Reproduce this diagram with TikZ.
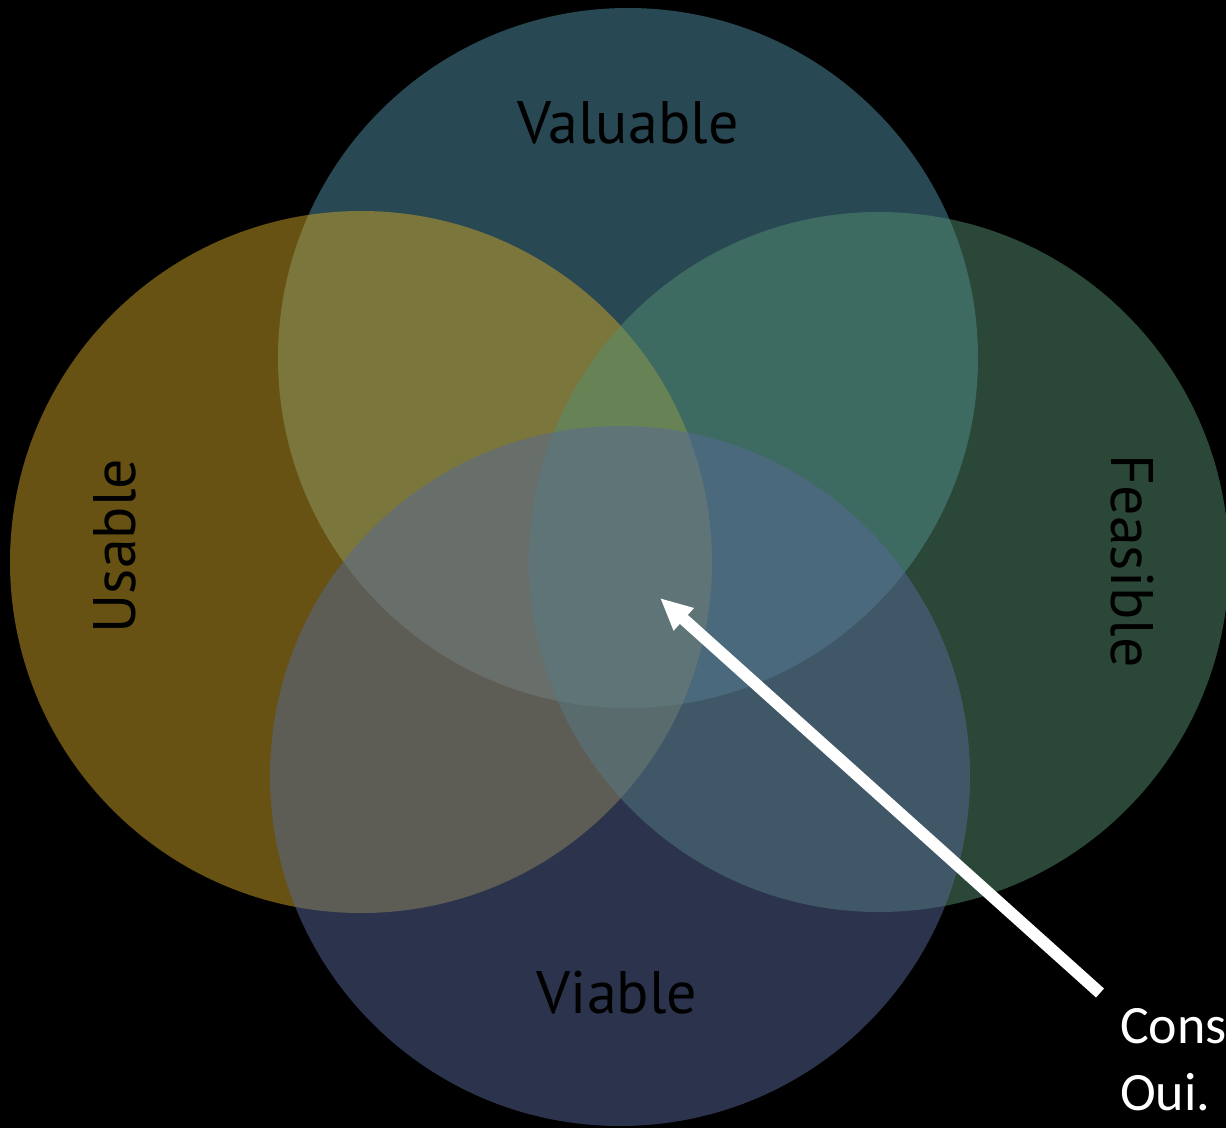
\documentclass[tikz,border=0pt]{standalone}
\usepackage{fontspec}
\setmainfont{Carlito}
\newfontfamily\labelfont{PT Sans}
\usetikzlibrary{arrows.meta}

\definecolor{valuablecol}{RGB}{80,144,168}
\definecolor{usablecol}{RGB}{206,164,38}
\definecolor{feasiblecol}{RGB}{84,142,110}
\definecolor{viablecol}{RGB}{86,104,152}

\begin{document}
\begin{tikzpicture}[x=1pt,y=-1pt,
    disc/.style={fill opacity=0.5},
    lbl/.style={font=\labelfont\fontsize{60}{72}\selectfont, text=black, inner sep=0pt},
    note/.style={font=\fontsize{54}{65}\selectfont, text=white, inner sep=0pt, anchor=base west}]
    \clip (0,0) rectangle (1226,1128);
    \fill[black] (0,0) rectangle (1226,1128);

    \coordinate (Cval) at (628, 358);
    \coordinate (Cusa) at (361, 562);
    \coordinate (Cfea) at (879, 562);
    \coordinate (Cvia) at (620, 776);
    \coordinate (foot) at (1100, 993);
    \coordinate (tip) at (660, 598);

%1 valuable (top)
%2 usable (left)
%3 feasible (right)
%4 viable (bottom)

    \fill[valuablecol, disc] (Cval) circle[radius=350]; % top
    \fill[usablecol, disc] (Cusa) circle[radius=351]; % left
    \fill[feasiblecol, disc] (Cfea) circle[radius=350]; % right
    \fill[viablecol, disc] (Cvia) circle[radius=350]; % bottom

    \node[lbl] (valuable) at (628, 123) {Valuable};
    \node[lbl, rotate=90] (usable) at (115, 546) {Usable};
    \node[lbl, rotate=-90] (feasible) at (1132, 561) {Feasible};
    \node[lbl] (viable) at (617, 993) {Viable};

    \draw[white, line width=12pt, -{Triangle[length=32pt,width=28pt]}] (foot) -- (tip);

    \node[note] (cons) at (1120, 1043) {Cons};
    \node[note] (oui) at (1120, 1110) {Oui.};

\end{tikzpicture}
\end{document}
